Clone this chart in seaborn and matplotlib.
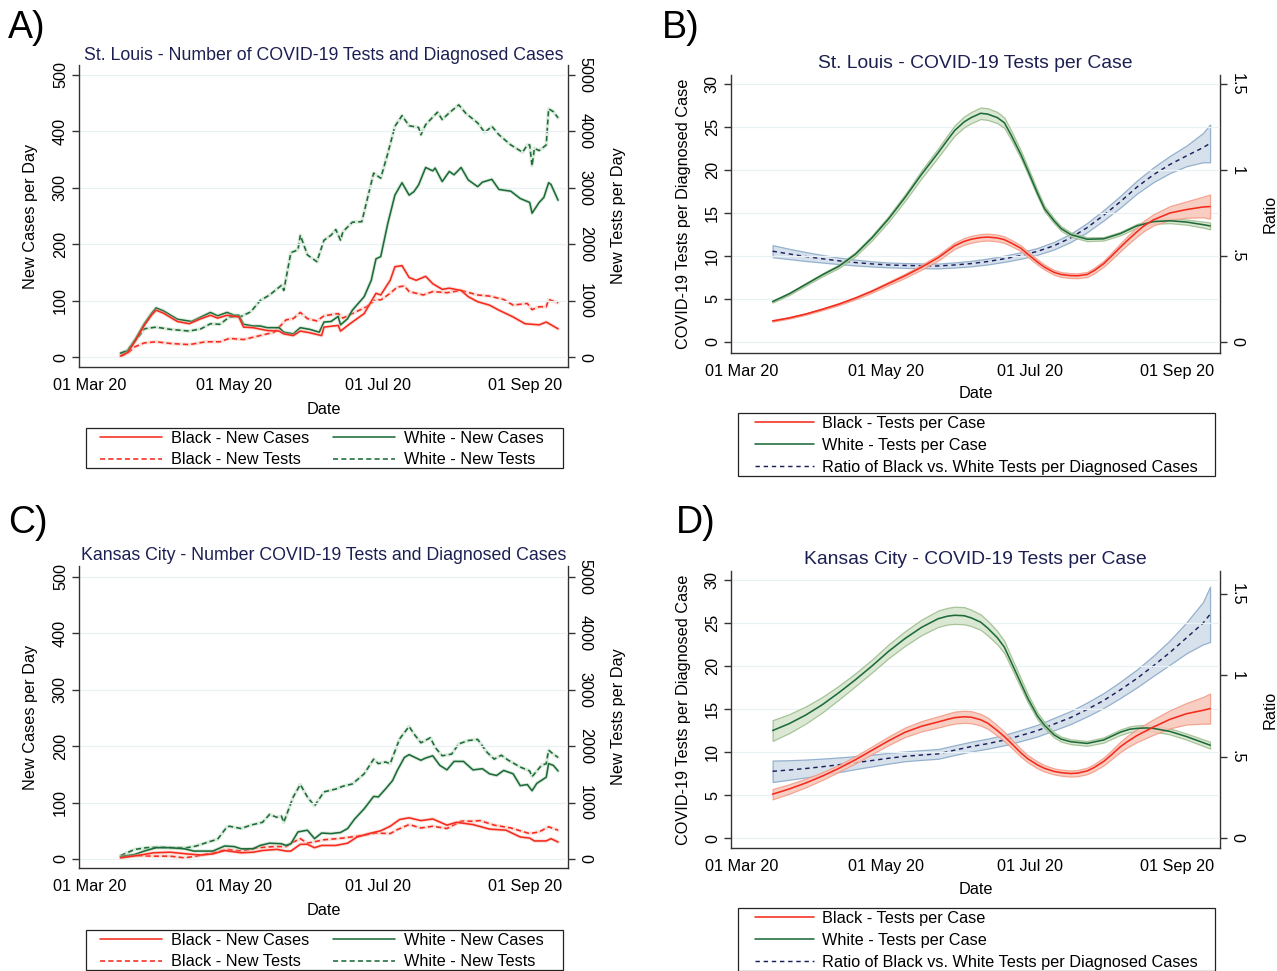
import numpy as np
import pandas as pd
import matplotlib
matplotlib.use("Agg")
import matplotlib.pyplot as plt
import matplotlib.dates as mdates
from matplotlib.lines import Line2D
from matplotlib.patches import Rectangle
import seaborn as sns

sns.set_style("white")
plt.rcParams["font.family"] = ["Liberation Sans", "DejaVu Sans"]
plt.rcParams["text.color"] = "black"
plt.rcParams["xtick.color"] = "black"
plt.rcParams["ytick.color"] = "black"
plt.rcParams["axes.labelcolor"] = "black"

# ---------------- DATA (days after 01 Mar 2020) ----------------
# Panel A: St. Louis counts (7-day averages)
stl_wt_day = [13,16,18,21,23,28,34,42,47,51,55,59,64,68,72,76,81,82,85,88,89,92,96,99,102,104,106,107,111,115,120,123,126,129,132,135,139,140,142,147,149,152,156,159,164,167,170,173,178,183,185,186,187,188,190,193,194,196,198]
stl_wt_val = [60,120,240,380,500,530,490,460,500,590,580,710,720,800,1000,1100,1270,1180,1850,1900,2160,1810,1690,2070,2160,2260,2070,2220,2390,2400,3260,3170,3610,4090,4280,4100,4070,3940,4120,4340,4210,4330,4470,4320,4150,3980,4090,3940,3760,3630,3760,3760,3390,3700,3660,3760,4400,4350,4240]
stl_wc_day = [13,16,19,23,26,28,31,37,43,47,51,54,58,61,63,65,69,72,75,80,82,86,89,93,97,99,102,105,106,109,111,116,119,121,123,126,129,132,135,137,139,142,145,146,149,152,154,157,160,164,166,170,173,178,182,186,187,190,192,194,195,198]
stl_wc_val = [7,11,30,59,77,87,82,67,63,71,79,73,79,74,74,58,55,55,52,52,44,41,52,49,44,62,63,72,57,68,83,107,136,174,178,237,287,309,287,293,305,336,330,335,311,329,323,336,314,302,310,315,297,294,281,274,255,274,283,309,306,278]
stl_bc_day = [13,16,19,23,26,28,31,37,42,47,51,54,58,63,65,69,75,80,82,86,89,93,98,99,105,106,110,116,121,123,127,129,132,135,138,142,145,149,152,157,160,164,169,173,179,184,190,193,198]
stl_bc_val = [2,8,27,56,74,83,78,63,59,68,74,69,74,71,53,52,47,46,41,38,46,43,38,53,56,46,59,77,113,110,136,160,162,141,136,143,130,120,122,118,107,98,92,83,71,59,57,62,50]
stl_bt_day = [13,16,19,23,28,34,42,49,55,59,65,72,78,83,86,89,92,96,99,105,107,111,117,121,123,127,130,133,135,141,145,151,157,164,169,175,179,185,187,190,193,194,198]
stl_bt_val = [10,70,180,250,270,240,220,270,270,330,310,380,440,660,680,790,680,640,730,770,690,770,890,1020,1010,1130,1240,1260,1160,1100,1160,1140,1180,1100,1080,1020,920,950,840,890,890,1020,960]

# Panel C: Kansas City counts
kc_wt_day = [13,19,24,30,35,41,45,50,54,58,59,64,68,73,76,79,81,82,86,89,92,95,99,104,107,111,116,120,122,125,127,131,135,137,140,144,146,149,153,156,160,164,168,171,174,177,182,186,187,191,193,194,196,198]
kc_wt_val = [60,170,200,210,200,200,230,300,350,570,580,540,600,650,790,740,760,650,1100,1320,1100,940,1190,1240,1290,1330,1510,1770,1690,1720,1690,2130,2350,2220,2060,2150,1980,1830,1860,2040,2100,2120,1890,1770,1840,1750,1630,1560,1460,1660,1690,1930,1860,1800]
kc_wc_day = [13,19,23,28,34,40,44,52,57,61,64,69,72,76,81,83,85,88,92,95,98,102,106,109,112,116,120,122,125,128,130,133,135,140,142,145,148,151,154,158,162,166,169,172,175,179,182,185,187,189,193,194,196,198]
kc_wc_val = [4,8,14,20,20,18,14,14,23,22,18,18,24,28,27,24,27,48,51,36,46,45,47,54,71,89,111,110,124,139,157,180,185,175,179,183,166,158,173,173,158,160,151,148,157,151,130,132,121,134,145,169,166,156]
kc_bc_day = [13,20,27,34,41,47,52,57,64,69,73,79,83,85,89,92,95,98,104,109,113,119,123,127,131,135,140,145,151,155,162,169,176,182,186,188,193,195,198]
kc_bc_val = [2,6,11,12,9,7,9,15,11,12,15,17,14,14,26,26,20,24,24,28,39,46,50,58,70,73,68,71,60,65,61,53,51,39,37,32,32,36,30]
kc_bt_day = [13,20,27,34,40,45,52,58,64,71,78,83,86,89,92,99,107,114,121,127,130,135,140,145,151,157,162,165,171,178,182,186,190,194,198]
kc_bt_val = [40,60,50,50,20,50,110,170,140,200,220,220,300,360,280,340,370,410,460,450,520,610,550,580,540,670,670,680,600,550,500,450,480,570,510]

# Panel B: St. Louis smoothed tests per case
stl_white_day = [13,20,27,34,41,48,55,62,69,76,83,87,90,94,97,101,104,108,111,114,118,121,125,128,132,135,139,146,153,160,167,174,181,188,195,198]
stl_white_tpc = [4.7,5.6,6.7,7.8,8.8,10.2,12.1,14.3,16.8,19.5,22.0,23.5,24.6,25.6,26.1,26.6,26.5,26.1,25.5,24.0,21.8,19.9,17.3,15.5,14.1,13.2,12.5,11.95,12.0,12.6,13.5,14.0,14.1,13.95,13.65,13.5]
stl_white_ci = [0.12,0.13,0.15,0.17,0.2,0.24,0.28,0.33,0.38,0.45,0.52,0.56,0.6,0.63,0.65,0.67,0.68,0.65,0.6,0.53,0.45,0.4,0.35,0.31,0.28,0.26,0.25,0.22,0.2,0.2,0.22,0.25,0.28,0.3,0.35,0.4]
stl_black_day = [13,20,27,34,41,48,55,62,69,76,83,90,94,97,101,104,108,111,114,118,121,125,128,132,135,139,142,146,149,153,156,160,163,167,170,174,181,188,195,198]
stl_black_tpc = [2.45,2.8,3.25,3.8,4.4,5.1,5.9,6.8,7.7,8.7,9.8,11.2,11.7,11.95,12.15,12.2,12.1,11.9,11.5,10.9,10.2,9.3,8.7,8.1,7.85,7.72,7.7,7.85,8.3,9.1,9.9,11.0,11.8,12.8,13.5,14.2,15.0,15.4,15.7,15.75]
stl_black_ci = [0.08,0.08,0.09,0.1,0.12,0.14,0.17,0.2,0.24,0.28,0.33,0.37,0.39,0.4,0.4,0.4,0.39,0.38,0.36,0.33,0.32,0.3,0.29,0.28,0.28,0.28,0.28,0.3,0.32,0.35,0.4,0.45,0.5,0.55,0.6,0.65,0.8,0.95,1.2,1.4]
ratio_day = [13,20,27,34,41,48,55,62,69,76,83,90,97,104,111,118,125,132,139,146,153,160,167,174,181,188,195,198]
stl_ratio = [0.528,0.512,0.497,0.484,0.472,0.462,0.454,0.448,0.445,0.443,0.442,0.448,0.456,0.468,0.484,0.503,0.527,0.56,0.605,0.665,0.737,0.815,0.90,0.972,1.032,1.082,1.13,1.155]
stl_ratio_ci = [0.035,0.03,0.026,0.022,0.019,0.017,0.015,0.014,0.014,0.014,0.014,0.015,0.016,0.017,0.018,0.019,0.02,0.022,0.024,0.027,0.03,0.034,0.038,0.043,0.05,0.06,0.085,0.11]

# Panel D: Kansas City smoothed tests per case
kc_white_day = [13,20,27,34,41,48,55,62,69,76,83,87,90,94,97,101,104,108,111,114,118,121,125,128,132,135,139,146,153,160,164,167,171,174,181,188,195,198]
kc_white_tpc = [12.5,13.3,14.3,15.5,16.9,18.4,20.0,21.7,23.2,24.5,25.5,25.8,25.9,25.85,25.6,25.1,24.4,23.3,22.2,20.4,18.0,16.2,14.2,13.1,12.0,11.5,11.2,11.0,11.4,12.3,12.65,12.75,12.8,12.75,12.4,11.8,11.1,10.8]
kc_white_ci = [1.2,1.1,1.0,0.9,0.8,0.75,0.75,0.8,0.85,0.9,0.95,0.97,1.0,1.0,0.95,0.9,0.85,0.78,0.7,0.62,0.55,0.48,0.4,0.35,0.3,0.29,0.28,0.28,0.3,0.32,0.33,0.35,0.35,0.35,0.35,0.35,0.38,0.4]
kc_black_day = [13,20,27,34,41,48,55,62,69,76,83,87,90,94,97,101,104,108,111,114,118,121,125,128,132,135,139,142,146,149,153,156,160,163,167,174,181,188,195,198]
kc_black_tpc = [5.1,5.7,6.4,7.2,8.1,9.1,10.2,11.3,12.3,13.0,13.5,13.8,14.0,14.1,14.05,13.75,13.35,12.5,11.8,11.0,9.9,9.2,8.5,8.1,7.75,7.6,7.5,7.55,7.8,8.2,8.9,9.6,10.6,11.2,11.9,12.9,13.8,14.45,14.85,15.05]
kc_black_ci = [0.6,0.55,0.5,0.45,0.4,0.42,0.45,0.5,0.55,0.6,0.65,0.67,0.7,0.7,0.7,0.68,0.65,0.6,0.55,0.5,0.45,0.42,0.4,0.38,0.35,0.35,0.35,0.36,0.38,0.4,0.45,0.5,0.6,0.67,0.75,0.9,1.05,1.25,1.55,1.75]
kc_ratio = [0.41,0.418,0.427,0.438,0.45,0.463,0.476,0.49,0.502,0.51,0.517,0.54,0.562,0.58,0.602,0.63,0.66,0.70,0.74,0.79,0.845,0.91,0.98,1.058,1.14,1.23,1.32,1.375]
kc_ratio_ci = [0.066,0.06,0.055,0.05,0.045,0.04,0.036,0.033,0.03,0.03,0.03,0.03,0.03,0.031,0.032,0.034,0.036,0.038,0.04,0.043,0.046,0.05,0.055,0.062,0.075,0.095,0.13,0.17]

date_ticks = [0, 61, 122, 184]
count_legend = ["Black - New Cases", "Black - New Tests", "White - New Cases", "White - New Tests"]
tpc_legend = ["Black - Tests per Case", "White - Tests per Case",
              "Ratio of Black vs. White Tests per Diagnosed Cases"]

# ---------------- STYLE ----------------
W, H = 1277, 971
FS = 11.7
RED = "#f52a1c"
GREEN = "#1d6b3a"
NAVY = "#1c1f5c"
TITLE_C = "#1c1f52"
SPINE = "#333333"
BASE = pd.Timestamp("2020-03-01")
DASH_T = (0, (3.2, 2.0))
DASH_R = (0, (3.0, 2.6))


def to_dates(days):
    return BASE + pd.to_timedelta(np.asarray(days, dtype=float), unit="D")


def rect(l, t, r, b):
    return [l / W, 1 - b / H, (r - l) / W, (b - t) / H]


def ftext(x, y, s, **kw):
    fig.text(x / W, 1 - y / H, s, **kw)


def frame_box(l, t, r, b):
    fig.add_artist(Rectangle((l / W, 1 - b / H), (r - l) / W, (b - t) / H,
                             transform=fig.transFigure, fill=False, ec="#222222", lw=0.9))


def base_axes(r):
    ax = fig.add_axes(rect(*r))
    ax2 = ax.twinx()
    ax.set_zorder(ax2.get_zorder() + 1)
    ax.patch.set_visible(False)
    for a in (ax, ax2):
        a.spines["top"].set_visible(False)
        for s in a.spines.values():
            s.set_color(SPINE)
            s.set_linewidth(1.0)
    ax.spines["right"].set_visible(False)
    ax2.spines["left"].set_visible(False)
    ax2.spines["bottom"].set_visible(False)
    ax.set_xlim(to_dates([-4.6, 202.2]))
    ax.set_xticks(to_dates(date_ticks))
    ax.xaxis.set_major_formatter(mdates.DateFormatter("%d %b %y"))
    ax.tick_params(axis="x", length=5, width=1, color=SPINE, labelsize=FS, pad=3)
    ax.tick_params(axis="y", length=5, width=1, color=SPINE, labelsize=FS, pad=3,
                   labelrotation=90)
    ax2.tick_params(axis="y", length=5, width=1, color=SPINE, labelsize=FS, pad=2,
                    labelrotation=-90)
    ax.yaxis.grid(True, color="#e9f1f4", lw=0.9)
    ax.set_axisbelow(True)
    return ax, ax2


def finish_axes(ax, ax2):
    for lab in ax2.get_yticklabels() + ax.get_yticklabels():
        lab.set_va("center")
    ax.set_xlabel("")
    ax.set_ylabel("")
    ax2.set_ylabel("")


def count_line(ax, d, v, color, dashed):
    dates = to_dates(d)
    halo = "#a9cda9" if color == GREEN else "#f7b0a4"
    sns.lineplot(x=dates, y=v, ax=ax, color=halo, lw=2.6, alpha=0.4, estimator=None,
                 sort=False)
    sns.lineplot(x=dates, y=v, ax=ax, color=color, lw=1.15, estimator=None, sort=False,
                 linestyle=DASH_T if dashed else "-")


def band(ax, d, v, ci, fill, edge):
    v = np.asarray(v)
    ci = np.asarray(ci)
    ax.fill_between(to_dates(d), v - ci, v + ci, facecolor=fill, edgecolor=edge,
                    linewidth=0.9, alpha=0.85)


fig = plt.figure(figsize=(W / 100, H / 100), dpi=100)


def count_panel(r, title, wt_d, wt_v, wc_d, wc_v, bc_d, bc_v, bt_d, bt_v, ylim_l, tag, tagpos,
                leg_top):
    ax, ax2 = base_axes(r)
    l, t, rr, b = r
    cx = (l + rr) / 2
    count_line(ax2, wt_d, wt_v, GREEN, True)
    count_line(ax2, bt_d, bt_v, RED, True)
    count_line(ax, wc_d, wc_v, GREEN, False)
    count_line(ax, bc_d, bc_v, RED, False)
    ax.set_ylim(*ylim_l)
    ax2.set_ylim(ylim_l[0] * 10, ylim_l[1] * 10)
    ax.set_yticks([0, 100, 200, 300, 400, 500])
    ax2.set_yticks([0, 1000, 2000, 3000, 4000, 5000])
    finish_axes(ax, ax2)
    ftext(cx, t - 10, title, ha="center", va="center", fontsize=12.8, color=TITLE_C)
    ftext(31, (t + b) / 2, "New Cases per Day", rotation=90, ha="center", va="center",
          fontsize=FS)
    ftext(618, (t + b) / 2, "New Tests per Day", rotation=90, ha="center", va="center",
          fontsize=FS)
    ftext(cx, b + 42, "Date", ha="center", va="center", fontsize=FS)
    ftext(tagpos[0], tagpos[1], tag, ha="left", va="center", fontsize=27)
    handles = [Line2D([], [], color=RED, lw=1.15),
               Line2D([], [], color=RED, lw=1.15, ls=DASH_T),
               Line2D([], [], color=GREEN, lw=1.15),
               Line2D([], [], color=GREEN, lw=1.15, ls=DASH_T)]
    frame_box(86, leg_top, 563, leg_top + 40)
    fig.legend(handles, count_legend, ncol=2, loc="upper left",
               bbox_to_anchor=(100 / W, 1 - (leg_top + 2.5) / H),
               frameon=False, fontsize=FS, handlelength=3.8, handletextpad=0.55,
               labelspacing=0.42, borderpad=0, columnspacing=1.5, borderaxespad=0)


def tpc_panel(r, title, w_d, w_v, w_ci, b_d, b_v, b_ci, rt_v, rt_ci, ylim_l, ylim_r, tag,
              tagpos, leg_top):
    ax, ax2 = base_axes(r)
    l, t, rr, b = r
    cx = (l + rr) / 2
    band(ax2, ratio_day, rt_v, rt_ci, "#cfdce9", "#85a6c6")
    sns.lineplot(x=to_dates(ratio_day), y=rt_v, ax=ax2, color=NAVY, lw=1.05,
                 linestyle=DASH_R, estimator=None, sort=False)
    band(ax, w_d, w_v, w_ci, "#d5e4cc", "#9bbb8a")
    band(ax, b_d, b_v, b_ci, "#f9c6b8", "#f29a86")
    sns.lineplot(x=to_dates(w_d), y=w_v, ax=ax, color=GREEN, lw=1.15, estimator=None,
                 sort=False)
    sns.lineplot(x=to_dates(b_d), y=b_v, ax=ax, color=RED, lw=1.15, estimator=None,
                 sort=False)
    ax.set_ylim(*ylim_l)
    ax2.set_ylim(*ylim_r)
    ax.set_yticks([0, 5, 10, 15, 20, 25, 30])
    ax2.set_yticks([0, 0.5, 1, 1.5], labels=["0", ".5", "1", "1.5"])
    finish_axes(ax, ax2)
    ftext(cx, t - 12, title, ha="center", va="center", fontsize=13.9, color=TITLE_C)
    ftext(683, (t + b) / 2, "COVID-19 Tests per Diagnosed Case", rotation=90, ha="center",
          va="center", fontsize=FS)
    ftext(1270, (t + b) / 2, "Ratio", rotation=90, ha="center", va="center", fontsize=FS)
    ftext(cx, b + 41, "Date", ha="center", va="center", fontsize=FS)
    ftext(tagpos[0], tagpos[1], tag, ha="left", va="center", fontsize=27)
    handles = [Line2D([], [], color=RED, lw=1.15),
               Line2D([], [], color=GREEN, lw=1.15),
               Line2D([], [], color=NAVY, lw=1.05, ls=DASH_R)]
    frame_box(738, leg_top, 1215, leg_top + 63)
    fig.legend(handles, tpc_legend, ncol=1, loc="upper left",
               bbox_to_anchor=(755 / W, 1 - (leg_top + 2.5) / H),
               frameon=False, fontsize=FS, handlelength=3.6, handletextpad=0.55,
               labelspacing=0.45, borderpad=0, borderaxespad=0)


count_panel((79, 65, 568, 367), "St. Louis - Number of COVID-19 Tests and Diagnosed Cases",
            stl_wt_day, stl_wt_val, stl_wc_day, stl_wc_val, stl_bc_day, stl_bc_val,
            stl_bt_day, stl_bt_val, (-17.7, 517.7), "A)", (8, 28), 428)
tpc_panel((731, 75, 1220, 353), "St. Louis - COVID-19 Tests per Case",
          stl_white_day, stl_white_tpc, stl_white_ci, stl_black_day, stl_black_tpc,
          stl_black_ci, stl_ratio, stl_ratio_ci,
          (-1.28, 31.05), (-1.28 / 20, 31.05 / 20), "B)", (662, 28), 413)
count_panel((79, 566, 568, 868), "Kansas City - Number COVID-19 Tests and Diagnosed Cases",
            kc_wt_day, kc_wt_val, kc_wc_day, kc_wc_val, kc_bc_day, kc_bc_val,
            kc_bt_day, kc_bt_val, (-16.0, 519.5), "C)", (8, 523), 930)
tpc_panel((731, 571, 1220, 848), "Kansas City - COVID-19 Tests per Case",
          kc_white_day, kc_white_tpc, kc_white_ci, kc_black_day, kc_black_tpc, kc_black_ci,
          kc_ratio, kc_ratio_ci,
          (-1.16, 31.05), (-0.0615, 1.641), "D)", (676, 523), 908)

fig.savefig("out.png", dpi=100)
